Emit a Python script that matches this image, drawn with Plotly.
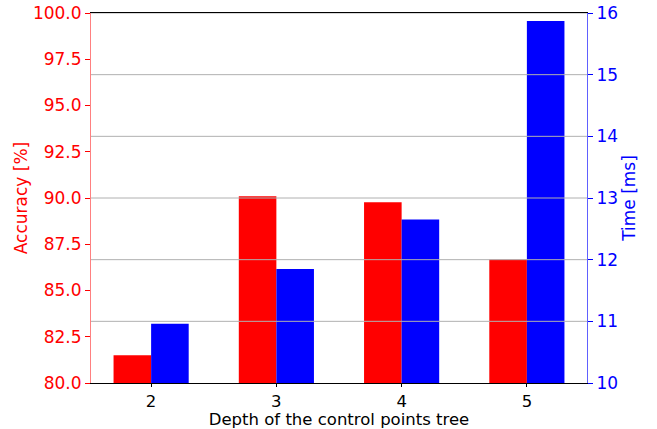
import plotly.graph_objects as go

depths = [2, 3, 4, 5]
accuracy = [81.5, 90.1, 89.77, 86.67]
time_ms = [10.96, 11.85, 12.65, 15.87]
acc_ticks = [80.0, 82.5, 85.0, 87.5, 90.0, 92.5, 95.0, 97.5, 100.0]
time_ticks = [10, 11, 12, 13, 14, 15, 16]

FONT = "DejaVu Sans"
RED = "#ff0000"
BLUE = "#0000ff"
FS = 17

fig = go.Figure()
fig.add_trace(go.Bar(x=depths, y=accuracy, base=0, offset=-0.3, width=0.3,
                     marker=dict(color=RED, line=dict(width=0)), name="Accuracy",
                     yaxis="y"))
fig.add_trace(go.Bar(x=depths, y=time_ms, offset=0.0, width=0.3,
                     marker=dict(color=BLUE, line=dict(width=0)), name="Time",
                     yaxis="y2"))

# gridlines from the right axis, drawn above the bars
for t in time_ticks[1:]:
    fig.add_shape(type="line", xref="paper", yref="y2", x0=0, x1=1, y0=t, y1=t,
                  line=dict(color="#b0b0b0", width=1), layer="above")

fig.update_layout(
    width=657, height=429,
    margin=dict(l=91, r=70, t=13, b=46),
    paper_bgcolor="white", plot_bgcolor="white",
    showlegend=False, barmode="overlay",
    font=dict(family=FONT, size=FS, color="black"),
    xaxis=dict(range=[1.52, 5.48], tickvals=depths, ticks="outside", ticklen=3,
               tickcolor="black", showline=True, linecolor="black", linewidth=1,
               mirror=True, showgrid=False, zeroline=False, automargin=False,
               tickfont=dict(size=16.5),
               title=dict(text="Depth of the control points tree", standoff=7,
                          font=dict(size=16.5, color="black"))),
    yaxis=dict(range=[80, 100], tickvals=acc_ticks, tickformat=".1f",
               ticks="outside", ticklen=5, tickcolor=RED, automargin=False,
               tickfont=dict(color=RED, size=FS),
               showline=True, linecolor="#ff8080", linewidth=1,
               showgrid=False, zeroline=False,
               title=dict(text="Accuracy [%]", standoff=0,
                          font=dict(color=RED, size=FS))),
    yaxis2=dict(range=[10, 16], tickvals=time_ticks, overlaying="y", side="right",
                ticks="outside", ticklen=5, tickcolor=BLUE, automargin=False,
                tickfont=dict(color=BLUE, size=FS),
                showline=True, linecolor="#6060ff", linewidth=1,
                showgrid=False, zeroline=False,
                title=dict(text="Time [ms]", standoff=6,
                           font=dict(color=BLUE, size=FS))),
)

fig.write_html("out.html", config={"displayModeBar": False},
               post_script="document.body.style.margin='0';")
